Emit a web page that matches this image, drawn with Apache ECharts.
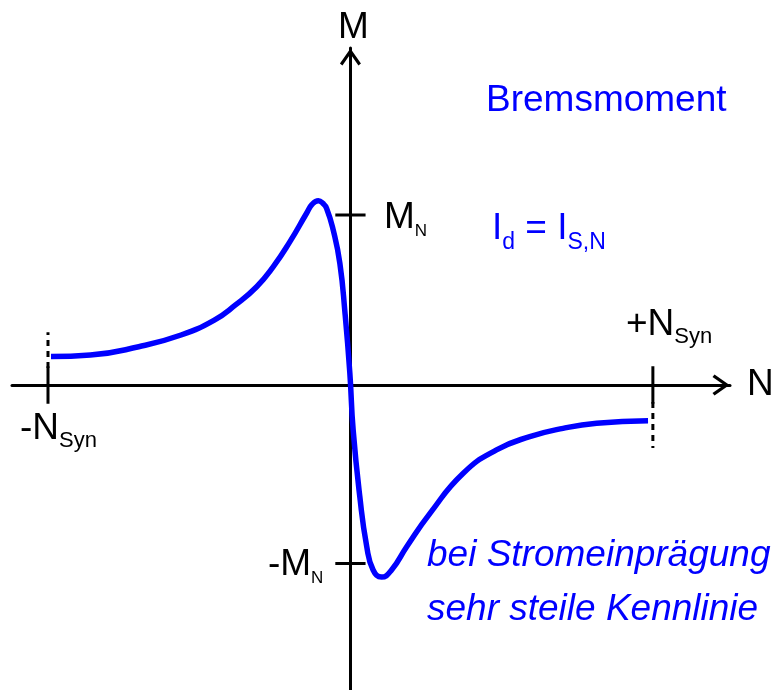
<!DOCTYPE html>
<html>
<head>
<meta charset="utf-8">
<script src="https://cdn.jsdelivr.net/npm/echarts@6/dist/echarts.min.js"></script>
<style>
html, body { margin: 0; padding: 0; background: #fff; }
#main { width: 776px; height: 690px; }
</style>
</head>
<body>
<div id="main"></div>
<script>
// Kennlinie: N bezogen auf N_Syn, M bezogen auf M_N
var curveN = [-0.99, -0.86, -0.70, -0.56, -0.45, -0.38, -0.31, -0.255, -0.20, -0.145, -0.127, -0.106, -0.091, -0.079, -0.057, -0.035, -0.018, -0.002,
              0.009, 0.031, 0.054, 0.075, 0.103, 0.136, 0.186, 0.263, 0.373, 0.483, 0.593, 0.703, 0.814, 0.984];
var curveM = [0.167, 0.176, 0.225, 0.294, 0.382, 0.471, 0.578, 0.696, 0.843, 1.010, 1.062, 1.084, 1.068, 1.040, 0.912, 0.716, 0.424, 0.071,
              -0.265, -0.657, -0.951, -1.088, -1.13, -1.088, -0.951, -0.755, -0.519, -0.382, -0.304, -0.255, -0.225, -0.210];

// Markierungen auf den Achsen
var xTickVals = [-1, 1];
var xTickLabels = ['{m|-N}{s|Syn}', '{m|+N}{s|Syn}'];
var yTickVals = [1, -1.05];
var yTickLabels = ['{m|M}{n|N}', '{m|-M}{n|N}'];

// gestrichelte Verlaengerung bei +/- N_Syn
var dashN = [-1, 1];
var dashFrom = [0.1, -0.1];
var dashTo = [0.31, -0.37];

var BLUE = '#0000ff';
var FONT = '"Liberation Sans", Arial, sans-serif';
var ARROW = 'path://M10.5,0 L21,15 L18.5,17 L10.5,5.5 L2.5,17 L0,15 Z';

var chart = echarts.init(document.getElementById('main'));

var richText = {
    m: { fontSize: 37, fontFamily: FONT, fill: '#000' },
    s: { fontSize: 22, fontFamily: FONT, fill: '#000', padding: [24, 0, 0, 0] },
    n: { fontSize: 17, fontFamily: FONT, fill: '#000', padding: [26, 0, 0, 0] }
};

var series = [];

// Striche an den Achsen
xTickVals.forEach(function (v) {
    series.push({
        type: 'line', symbol: 'none', silent: true,
        data: [[v, -0.11], [v, 0.11]],
        lineStyle: { color: '#000', width: 3 }
    });
});
yTickVals.forEach(function (v) {
    series.push({
        type: 'line', symbol: 'none', silent: true,
        data: [[-0.05, v], [0.05, v]],
        lineStyle: { color: '#000', width: 3 }
    });
});
dashN.forEach(function (v, i) {
    series.push({
        type: 'line', symbol: 'none', silent: true,
        data: [[v, dashFrom[i]], [v, dashTo[i]]],
        lineStyle: { color: '#000', width: 3, type: [6, 5] }
    });
});

// Bremsmoment-Kennlinie
series.push({
    type: 'line', symbol: 'none', smooth: 0.5, z: 5,
    data: curveN.map(function (n, i) { return [n, curveM[i]]; }),
    lineStyle: { color: BLUE, width: 5.5 }
});

var option = {
    backgroundColor: '#fff',
    animation: false,
    grid: { left: 12, right: 46, top: 48, bottom: 0, containLabel: false, outerBoundsMode: 'none' },
    xAxis: {
        type: 'value', min: -1.119, max: 1.255,
        name: 'N', nameLocation: 'end', nameGap: 17,
        nameTextStyle: { fontSize: 37, fontFamily: FONT, color: '#000', align: 'left', verticalAlign: 'middle', padding: [30, 0, 0, 0] },
        axisLine: {
            onZero: true,
            lineStyle: { color: '#000', width: 3 },
            symbol: ['none', ARROW], symbolSize: [21, 18], symbolOffset: [0, -9]
        },
        axisTick: { show: false }, axisLabel: { show: false }, splitLine: { show: false }
    },
    yAxis: {
        type: 'value', min: -1.794, max: 1.982,
        name: 'M', nameLocation: 'end', nameGap: 2,
        nameTextStyle: { fontSize: 37, fontFamily: FONT, color: '#000', padding: [0, 0, 0, 6] },
        axisLine: {
            onZero: true,
            lineStyle: { color: '#000', width: 3 },
            symbol: ['none', ARROW], symbolSize: [21, 18], symbolOffset: [0, -9]
        },
        axisTick: { show: false }, axisLabel: { show: false }, splitLine: { show: false }
    },
    series: series
};

chart.setOption(option);

// Beschriftungen: Lage relativ zur jeweiligen Markierung
var xLabelShift = [[-28, 44], [-27, -60]];
var yLabelShift = [[33.5, 3], [-82.5, 1.5]];

var graphics = [
    { type: 'text', x: 486, y: 101, style: { text: 'Bremsmoment', font: '37px ' + FONT, fill: BLUE, verticalAlign: 'middle' } },
    { type: 'text', x: 492, y: 229, style: {
        text: '{a|I}{b|d}{a| = I}{b|S,N}', verticalAlign: 'middle',
        rich: {
            a: { fontSize: 37, fontFamily: FONT, fill: BLUE },
            b: { fontSize: 23, fontFamily: FONT, fill: BLUE, padding: [27, 0, 0, 0] }
        }
    } },
    { type: 'text', x: 427, y: 556, style: { text: 'bei Stromeinprägung', font: 'italic 37px ' + FONT, fill: BLUE, verticalAlign: 'middle' } },
    { type: 'text', x: 427, y: 610, style: { text: 'sehr steile Kennlinie', font: 'italic 37px ' + FONT, fill: BLUE, verticalAlign: 'middle' } }
];
xTickVals.forEach(function (v, i) {
    var p = chart.convertToPixel({ gridIndex: 0 }, [v, 0]);
    graphics.push({ type: 'text', x: p[0] + xLabelShift[i][0], y: p[1] + xLabelShift[i][1],
        style: { text: xTickLabels[i], rich: richText, verticalAlign: 'middle' } });
});
yTickVals.forEach(function (v, i) {
    var p = chart.convertToPixel({ gridIndex: 0 }, [0, v]);
    graphics.push({ type: 'text', x: p[0] + yLabelShift[i][0], y: p[1] + yLabelShift[i][1],
        style: { text: yTickLabels[i], rich: richText, verticalAlign: 'middle' } });
});

chart.setOption({ graphic: graphics });
</script>
</body>
</html>
